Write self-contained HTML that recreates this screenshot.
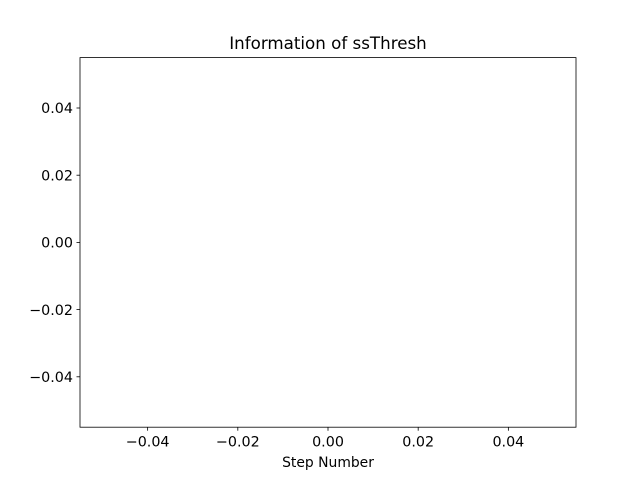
<!DOCTYPE html>
<html><head><meta charset="utf-8"><style>
html,body{margin:0;padding:0;background:#fff;}
svg{display:block;font-family:"DejaVu Sans","Liberation Sans",sans-serif;}
</style></head><body>
<svg id="chart" width="640" height="480" viewBox="0 0 640 480">
<rect width="640" height="480" fill="#fff"/>
<text x="328" y="49" text-anchor="middle" font-size="16.7">Information of ssThresh</text>
<text x="328" y="467" text-anchor="middle" font-size="13.9">Step Number</text>
<g id="ticks"></g>
<g id="marks"></g>
<rect x="80" y="57.6" width="496" height="369.6" fill="none" stroke="#000" stroke-width="0.8"/>
</svg>
<script>
const xTicks = [-0.04, -0.02, 0.00, 0.02, 0.04];
const yTicks = [-0.04, -0.02, 0.00, 0.02, 0.04];
const xTickLabels = ["\u22120.04", "\u22120.02", "0.00", "0.02", "0.04"];
const yTickLabels = ["\u22120.04", "\u22120.02", "0.00", "0.02", "0.04"];
const seriesX = [];
const seriesY = [];
const xDomain = [-0.055, 0.055];
const yDomain = [-0.055, 0.055];

const L = 80, R = 576, T = 57.6, B = 427.2;
const NS = "http://www.w3.org/2000/svg";
function sx(v){ return L + (v - xDomain[0]) / (xDomain[1] - xDomain[0]) * (R - L); }
function sy(v){ return B - (v - yDomain[0]) / (yDomain[1] - yDomain[0]) * (B - T); }

const tg = document.getElementById('ticks');
xTicks.forEach((v, i) => {
  const x = sx(v);
  const ln = document.createElementNS(NS, 'line');
  ln.setAttribute('x1', x); ln.setAttribute('x2', x);
  ln.setAttribute('y1', B); ln.setAttribute('y2', B + 3.5);
  ln.setAttribute('stroke', '#000'); ln.setAttribute('stroke-width', '0.8');
  
  
  tg.appendChild(ln);
  const t = document.createElementNS(NS, 'text');
  t.setAttribute('x', x); t.setAttribute('y', B + 19.5);
  t.setAttribute('text-anchor', 'middle'); t.setAttribute('font-size', '14.3');
  t.textContent = xTickLabels[i];
  
  
  tg.appendChild(t);
});
yTicks.forEach((v, i) => {
  const y = sy(v);
  const ln = document.createElementNS(NS, 'line');
  ln.setAttribute('x1', L - 3.5); ln.setAttribute('x2', L);
  ln.setAttribute('y1', y); ln.setAttribute('y2', y);
  ln.setAttribute('stroke', '#000'); ln.setAttribute('stroke-width', '0.8');
  
  
  tg.appendChild(ln);
  const t = document.createElementNS(NS, 'text');
  t.setAttribute('x', L - 7); t.setAttribute('y', y + 5.2);
  t.setAttribute('text-anchor', 'end'); t.setAttribute('font-size', '14.3');
  t.textContent = yTickLabels[i];
  
  
  tg.appendChild(t);
});
const mg = document.getElementById('marks');
seriesX.forEach((v, i) => {
  const c = document.createElementNS(NS, 'circle');
  c.setAttribute('cx', sx(v)); c.setAttribute('cy', sy(seriesY[i]));
  c.setAttribute('r', 3); c.setAttribute('fill', '#1f77b4');
  
  
  mg.appendChild(c);
});
</script>
</body></html>
